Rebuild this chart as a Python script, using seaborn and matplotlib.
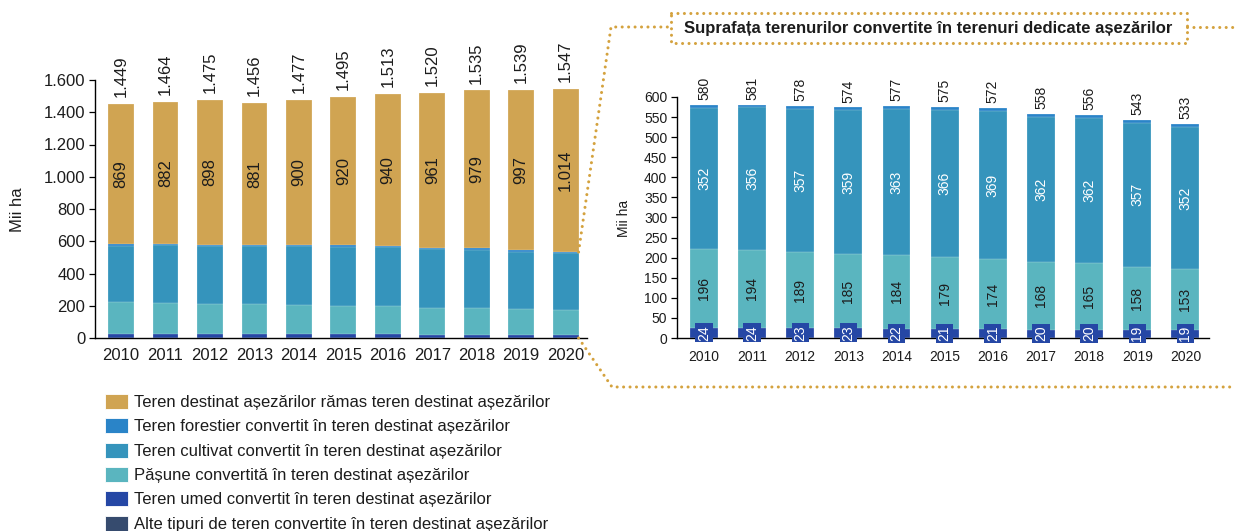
import matplotlib
matplotlib.use("Agg")
import matplotlib.pyplot as plt
import seaborn as sns
from matplotlib.patches import Patch, Rectangle
from matplotlib.lines import Line2D

# ---- data (thousand ha) ----
years = ["2010", "2011", "2012", "2013", "2014", "2015", "2016", "2017", "2018", "2019", "2020"]
settlements_total = [1449, 1464, 1475, 1456, 1477, 1495, 1513, 1520, 1535, 1539, 1547]
settlements_remaining = [869, 882, 898, 881, 900, 920, 940, 961, 979, 997, 1014]
converted_total = [580, 581, 578, 574, 577, 575, 572, 558, 556, 543, 533]
forest_converted = [7, 6, 8, 6, 7, 8, 7, 7, 8, 8, 8]
cropland_converted = [352, 356, 357, 359, 363, 366, 369, 362, 362, 357, 352]
grassland_converted = [196, 194, 189, 185, 184, 179, 174, 168, 165, 158, 153]
wetland_converted = [24, 24, 23, 23, 22, 21, 21, 20, 20, 19, 19]
other_converted = [1, 1, 1, 1, 1, 1, 1, 1, 1, 1, 1]

series_labels = [
    "Teren destinat așezărilor rămas teren destinat așezărilor",
    "Teren forestier convertit în teren destinat așezărilor",
    "Teren cultivat convertit în teren destinat așezărilor",
    "Pășune convertită în teren destinat așezărilor",
    "Teren umed convertit în teren destinat așezărilor",
    "Alte tipuri de teren convertite în teren destinat așezărilor",
]
title_text = "Suprafața terenurilor convertite în terenuri dedicate așezărilor"
y_label = "Mii ha"

C_REMAIN = "#D0A452"
C_FOREST = "#2A84C8"
C_CROP = "#3594BC"
C_GRASS = "#5AB5BF"
C_WET = "#2547A5"
C_OTHER = "#364B6E"
C_DOT = "#D4A23E"
TXT = "#1c1c1c"

sns.set_theme(style="white")
plt.rcParams["font.family"] = ["Liberation Sans", "DejaVu Sans"]
plt.rcParams["text.color"] = TXT

W, H = 1236, 531
fig = plt.figure(figsize=(W / 100, H / 100), dpi=100)
fig.patch.set_facecolor("white")


def px_axes(left, top, right, bottom):
    return fig.add_axes([left / W, 1 - bottom / H, (right - left) / W, (bottom - top) / H])


ax1 = px_axes(95, 80, 587, 338)
ax2 = px_axes(677, 97, 1208.5, 338)

# bottom-to-top stacking order
stack_left = [other_converted, wetland_converted, grassland_converted,
              cropland_converted, forest_converted, settlements_remaining]
stack_right = stack_left[:-1]
colors = [C_OTHER, C_WET, C_GRASS, C_CROP, C_FOREST, C_REMAIN]


def cumulative(stack):
    out, run = [], [0] * len(years)
    for s in stack:
        run = [a + b for a, b in zip(run, s)]
        out.append(run)
    return out


def draw_stack(ax, stack, width):
    cum = cumulative(stack)
    # draw the tallest cumulative bar first so each lower layer sits on top
    for heights, col in reversed(list(zip(cum, colors[:len(stack)]))):
        sns.barplot(x=years, y=heights, color=col, saturation=1, width=width,
                    edgecolor=(1, 1, 1, 0.55), linewidth=0.3, ax=ax, zorder=2)
    return cum


cum1 = draw_stack(ax1, stack_left, 0.58)
cum2 = draw_stack(ax2, stack_right, 0.58)


def style_axes(ax, ylim, step, fs, xlim, xpad):
    ax.set_xlim(*xlim)
    ax.set_ylim(0, ylim)
    ticks = list(range(0, ylim + 1, step))
    ax.set_yticks(ticks)
    ax.set_yticklabels([f"{t:,}".replace(",", ".") for t in ticks])
    ax.set_xlabel("")
    ax.set_ylabel("")
    for sp in ["top", "right"]:
        ax.spines[sp].set_visible(False)
    for sp in ["left", "bottom"]:
        ax.spines[sp].set_color("black")
        ax.spines[sp].set_linewidth(1.0)
    ax.tick_params(axis="y", which="both", left=True, length=4, width=0.9,
                   color="black", labelsize=fs, labelcolor=TXT, pad=3)
    ax.tick_params(axis="x", bottom=False, labelsize=fs, labelcolor=TXT, pad=xpad)
    ax.set_facecolor("white")
    ax.grid(False)


style_axes(ax1, 1600, 200, 12, (-0.585, 10.48), 1.5)
style_axes(ax2, 600, 50, 10, (-0.56, 10.48), 2.5)

fig.text(18 / W, 1 - 210 / H, y_label, rotation=90, ha="center", va="center",
         fontsize=12, color=TXT)
fig.text(624 / W, 1 - 218 / H, y_label, rotation=90, ha="center", va="center",
         fontsize=10, color=TXT)


def fmt(v):
    return f"{v:,}".replace(",", ".")


# value labels: left chart
for i, yr in enumerate(years):
    base = cum1[4][i]
    ax1.text(i, base + settlements_remaining[i] / 2, fmt(settlements_remaining[i]),
             rotation=90, ha="center", va="center", fontsize=12, color=TXT, zorder=5)
    ax1.annotate(fmt(settlements_total[i]), (i, settlements_total[i]),
                 xytext=(0, 5), textcoords="offset points", rotation=90,
                 ha="center", va="bottom", fontsize=12, color=TXT, zorder=5)

# value labels: right chart
for i, yr in enumerate(years):
    w0 = cum2[0][i]
    ax2.text(i, w0 + wetland_converted[i] / 2, str(wetland_converted[i]), rotation=90,
             ha="center", va="center", fontsize=10, color="white", zorder=5,
             bbox=dict(boxstyle="square,pad=0.12", fc=C_WET, ec="none"))
    g0 = cum2[1][i]
    ax2.text(i, g0 + grassland_converted[i] / 2, str(grassland_converted[i]), rotation=90,
             ha="center", va="center", fontsize=10, color=TXT, zorder=5)
    c0 = cum2[2][i]
    ax2.text(i, c0 + cropland_converted[i] / 2, str(cropland_converted[i]), rotation=90,
             ha="center", va="center", fontsize=10, color="white", zorder=5)
    ax2.annotate(str(converted_total[i]), (i, converted_total[i]),
                 xytext=(0, 3.5), textcoords="offset points", rotation=90,
                 ha="center", va="bottom", fontsize=10, color=TXT, zorder=5)

# legend
handles = [Patch(facecolor=c, edgecolor="white", linewidth=0.6)
           for c in [C_REMAIN, C_FOREST, C_CROP, C_GRASS, C_WET, C_OTHER]]
fig.legend(handles, series_labels, loc="upper left",
           bbox_to_anchor=(105 / W, 1 - 394 / H), frameon=False, fontsize=12,
           handlelength=1.4, handleheight=1.0, handletextpad=0.35,
           labelspacing=0.49, borderpad=0, borderaxespad=0, labelcolor=TXT)

# overlay in pixel coordinates for the dotted callout frame
ov = fig.add_axes([0, 0, 1, 1], zorder=10)
ov.set_xlim(0, W)
ov.set_ylim(H, 0)
ov.axis("off")
ov.patch.set_alpha(0)

fig.canvas.draw()
to_px = ov.transData.inverted()
last = len(years) - 1
x_top, y_top = to_px.transform(ax1.transData.transform((last + 0.29, converted_total[last])))
x_bot, y_bot = to_px.transform(ax1.transData.transform((last + 0.29, 0)))

dot = dict(color=C_DOT, linewidth=2.2, linestyle=(0, (0.01, 2.1)),
           dash_capstyle="round", solid_capstyle="round")
ov.add_line(Line2D([x_top, 611, 671], [y_top, 27, 27], **dot))
ov.add_line(Line2D([1187, W], [27, 27], **dot))
ov.add_line(Line2D([x_bot, 612, W], [y_bot, 387, 387], **dot))
ov.add_patch(Rectangle((671, 13), 516, 30, fill=False, edgecolor=C_DOT,
                       linewidth=2.2, linestyle=(0, (0.01, 2.1)), capstyle="round"))
ov.text(928, 28.5, title_text, ha="center", va="center", fontsize=12,
        fontweight="bold", color=TXT)

fig.savefig("out.png", dpi=100, facecolor="white")
